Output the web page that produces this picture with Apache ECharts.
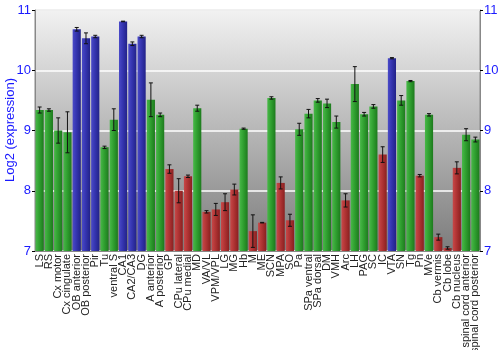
<!DOCTYPE html>
<html>
<head>
<meta charset="utf-8">
<script src="https://cdn.jsdelivr.net/npm/echarts@6/dist/echarts.min.js"></script>
<style>html,body{margin:0;padding:0;background:#fff}#c{width:500px;height:350px}</style>
</head>
<body>
<div id="c"></div>
<script>
// Brain regions along the x axis
const regions = ['LS','RS','Cx motor','Cx cingulate','OB anterior','OB posterior','Pir','Tu','ventral S','CA1','CA2/CA3','DG','A anterior','A posterior','GP','CPu lateral','CPu medial','MD','VA/VL','VPM/VPL','LG','MG','Hb','M','ME','SCN','MPA','SO','Pa','SPa ventral','SPa dorsal','DM','VMH','Arc','LH','PAG','SC','IC','VTA','SN','Tg','Pn','MVe','Cb vermis','Cb lobe','Cb nucleus','spinal cord anterior','spinal cord posterior'];
// Mean log2 expression per region
const means = [9.34,9.34,9.0,8.97,10.68,10.53,10.56,8.72,9.18,10.81,10.44,10.56,9.51,9.26,8.36,8.0,8.24,9.37,7.65,7.69,7.81,8.02,9.03,7.33,7.47,9.54,8.13,7.51,9.02,9.28,9.5,9.45,9.14,7.84,9.77,9.27,9.40,8.60,10.20,9.50,9.82,8.25,9.26,7.23,7.05,8.38,8.93,8.85];
// Error half-widths
const errors = [0.05,0.02,0.21,0.34,0.03,0.09,0.02,0.02,0.18,0.005,0.03,0.02,0.28,0.03,0.07,0.2,0.02,0.05,0.02,0.1,0.14,0.09,0.01,0.27,0.005,0.02,0.1,0.1,0.1,0.07,0.03,0.07,0.1,0.11,0.29,0.03,0.03,0.13,0.01,0.08,0.01,0.02,0.02,0.05,0.02,0.1,0.1,0.04];
// Expression level class: h = high, m = mid, l = low
const level = ['m','m','m','m','h','h','h','m','m','h','h','h','m','m','l','l','l','m','l','l','l','l','m','l','l','m','l','l','m','m','m','m','m','l','m','m','m','l','h','m','m','l','m','l','l','l','m','m'];
const yTicks = [7, 8, 9, 10, 11];

function grad(c1, c2, c3) {
  return new echarts.graphic.LinearGradient(0, 0, 1, 0, [
    {offset: 0, color: c1}, {offset: 0.45, color: c2}, {offset: 1, color: c3}
  ]);
}
const fills = {
  h: grad('#4a4ac8', '#3535b0', '#222288'),
  m: grad('#48b848', '#30a030', '#1d7a1d'),
  l: grad('#c84848', '#b03434', '#8a2020')
};

const chart = echarts.init(document.getElementById('c'), null, {renderer: 'canvas'});
const axisCommon = {
  type: 'value', min: yTicks[0], max: yTicks[yTicks.length - 1], interval: 1,
  axisLine: {show: true, lineStyle: {color: '#888', width: 1}},
  axisTick: {show: true, length: 3, lineStyle: {color: '#000'}},
  axisLabel: {color: '#1a1aff', fontSize: 13, margin: 4, fontFamily: 'Liberation Sans'}
};
chart.setOption({
  animation: false,
  grid: {
    left: 35, right: 20, top: 10, bottom: 99, show: true,
    containLabel: false, outerBoundsMode: 'none',
    borderColor: '#888', borderWidth: 1,
    backgroundColor: new echarts.graphic.LinearGradient(0, 0, 0, 1, [
      {offset: 0, color: '#f2f2f2'}, {offset: 1, color: '#7c7c7c'}
    ])
  },
  // vertical y-axis title on the left
  graphic: [{
    type: 'text', x: 10, y: 130, rotation: Math.PI / 2,
    style: {
      text: 'Log2 (expression)', fill: '#1a1aff', fontSize: 13,
      fontFamily: 'Liberation Sans', align: 'center', verticalAlign: 'middle'
    }
  }],
  xAxis: {
    type: 'category', data: regions,
    axisLine: {show: true, lineStyle: {color: '#888'}},
    axisTick: {show: false},
    axisLabel: {interval: 0, rotate: 90, fontSize: 11, color: '#222', margin: 3, fontFamily: 'Liberation Sans'}
  },
  yAxis: [
    Object.assign({}, axisCommon, {
      position: 'left',
      splitLine: {show: true, lineStyle: {color: '#ffffff', width: 1.5}}
    }),
    Object.assign({}, axisCommon, {
      position: 'right', splitLine: {show: false}
    })
  ],
  series: [
    {
      type: 'bar', barWidth: '88%',
      data: means.map((v, i) => ({value: v, itemStyle: {color: fills[level[i]]}}))
    },
    {
      type: 'custom', z: 10,
      data: means.map((v, i) => [i, v - errors[i], v + errors[i]]),
      renderItem: function (params, api) {
        const x = api.value(0);
        const lo = api.coord([x, api.value(1)]);
        const hi = api.coord([x, api.value(2)]);
        const cap = 2;
        const st = {stroke: '#111', lineWidth: 1};
        return {type: 'group', children: [
          {type: 'line', shape: {x1: lo[0], y1: lo[1], x2: hi[0], y2: hi[1]}, style: st},
          {type: 'line', shape: {x1: lo[0] - cap, y1: lo[1], x2: lo[0] + cap, y2: lo[1]}, style: st},
          {type: 'line', shape: {x1: hi[0] - cap, y1: hi[1], x2: hi[0] + cap, y2: hi[1]}, style: st}
        ]};
      }
    }
  ]
});
</script>
</body>
</html>
